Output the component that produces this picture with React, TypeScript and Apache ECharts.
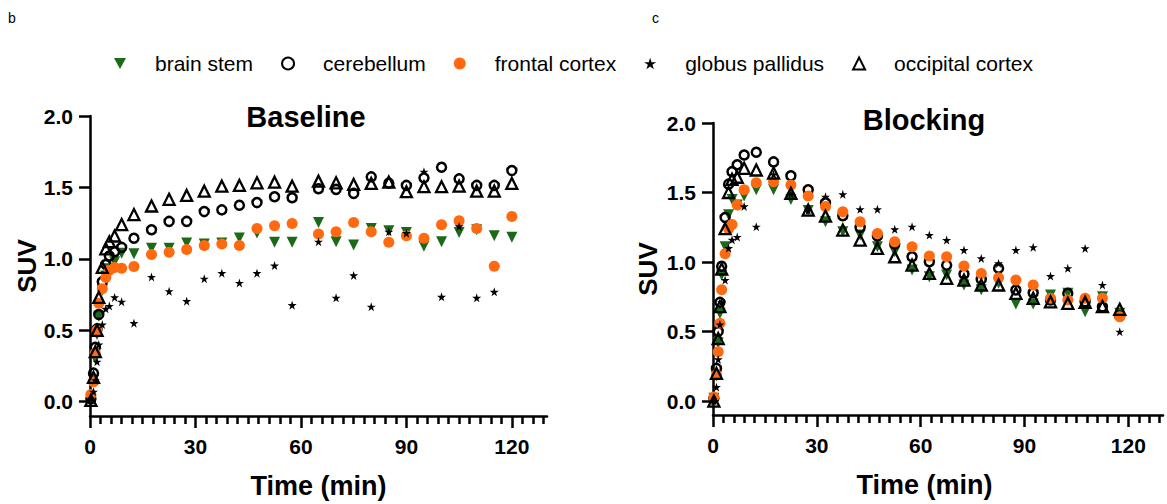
import React, { useEffect, useRef } from "react";
import * as echarts from "echarts";

// ---------- data ----------
const baselineTimes = [0.25, 1, 1.5, 2, 2.5, 3.5, 4.5, 5.5, 7, 9, 12.5, 17.5, 22.5, 27.5, 32.5, 37.5, 42.5, 47.5, 52.5, 57.5, 65, 70, 75, 80, 85, 90, 95, 100, 105, 110, 115, 120];
const blockingTimes = [0.25, 1, 1.5, 2, 2.5, 3.5, 4.5, 5.5, 7, 9, 12.5, 17.5, 22.5, 27.5, 32.5, 37.5, 42.5, 47.5, 52.5, 57.5, 62.5, 67.5, 72.5, 77.5, 82.5, 87.5, 92.5, 97.5, 102.5, 107.5, 112.5, 117.5];

const brainStemBaseline = [0.01, 0.15, 0.3, 0.47, 0.6, 0.78, 0.88, 0.93, 0.98, 1.04, 1.035, 1.074, 1.074, 1.111, 1.104, 1.111, 1.146, 1.181, 1.116, 1.116, 1.255, 1.12, 1.097, 1.213, 1.197, 1.185, 1.088, 1.12, 1.185, 1.204, 1.162, 1.151];
const cerebellumBaseline = [0.02, 0.2, 0.38, 0.51, 0.61, 0.84, 0.96, 1.02, 1.05, 1.08, 1.144, 1.204, 1.262, 1.262, 1.331, 1.343, 1.375, 1.394, 1.435, 1.428, 1.491, 1.486, 1.458, 1.574, 1.53, 1.514, 1.567, 1.641, 1.56, 1.514, 1.514, 1.618];
const frontalBaseline = [0.05, 0.14, 0.34, 0.5, 0.69, 0.79, 0.87, 0.92, 0.94, 0.935, 0.947, 1.03, 1.046, 1.065, 1.093, 1.104, 1.093, 1.213, 1.231, 1.248, 1.174, 1.19, 1.255, 1.19, 1.116, 1.162, 1.144, 1.238, 1.266, 1.213, 0.949, 1.296];
const globusBaseline = [0.02, 0.07, 0.15, 0.28, 0.4, 0.54, 0.65, 0.67, 0.73, 0.7, 0.55, 0.873, 0.773, 0.704, 0.861, 0.9, 0.831, 0.9, 0.953, 0.676, 1.12, 0.727, 0.884, 0.665, 1.19, 1.18, 1.61, 0.734, 1.227, 0.727, 0.769, null];
const occipitalBaseline = [0.01, 0.17, 0.35, 0.5, 0.73, 0.94, 1.07, 1.12, 1.16, 1.24, 1.31, 1.37, 1.417, 1.444, 1.474, 1.509, 1.514, 1.532, 1.537, 1.509, 1.544, 1.532, 1.521, 1.528, 1.537, 1.47, 1.505, 1.505, 1.509, 1.474, 1.474, 1.528];

const brainStemBlocking = [0.02, 0.18, 0.42, 0.63, 0.906, 1.11, 1.34, 1.45, 1.41, 1.475, 1.52, 1.52, 1.45, 1.37, 1.29, 1.218, 1.194, 1.11, 1.074, 0.942, 0.894, 0.906, 0.835, 0.8, 0.847, 0.698, 0.698, 0.763, 0.775, 0.642, 0.75, 0.631];
const cerebellumBlocking = [0.02, 0.235, 0.5, 0.71, 0.97, 1.32, 1.56, 1.65, 1.7, 1.77, 1.79, 1.72, 1.62, 1.52, 1.427, 1.333, 1.249, 1.187, 1.129, 1.038, 1.002, 0.978, 0.914, 0.875, 0.955, 0.799, 0.779, 0.727, 0.775, 0.714, 0.678, 0.612];
const frontalBlocking = [0.03, 0.19, 0.355, 0.56, 0.8, 1.06, 1.24, 1.27, 1.41, 1.52, 1.57, 1.578, 1.554, 1.475, 1.4, 1.362, 1.29, 1.206, 1.146, 1.11, 1.043, 1.038, 0.971, 0.918, 0.887, 0.87, 0.835, 0.739, 0.727, 0.739, 0.739, 0.607];
const globusBlocking = [0.0, 0.1, 0.3, 0.55, 0.71, 0.87, 1.1, 1.16, 1.18, 1.4, 1.254, 1.63, 1.49, 1.37, 1.47, 1.487, 1.379, 1.379, 1.235, 1.254, 1.194, 1.158, 1.086, 1.026, 0.99, 1.086, 1.106, 0.899, 0.955, 1.098, 0.835, 0.499];
const occipitalBlocking = [0.0, 0.2, 0.45, 0.68, 0.95, 1.24, 1.5, 1.595, 1.61, 1.674, 1.662, 1.64, 1.494, 1.374, 1.33, 1.23, 1.158, 1.098, 1.038, 0.978, 0.918, 0.883, 0.87, 0.835, 0.835, 0.775, 0.739, 0.714, 0.703, 0.71, 0.68, 0.66];

const regionNames = ["brain stem", "cerebellum", "frontal cortex", "globus pallidus", "occipital cortex"];
const xMajorTicks = [0, 30, 60, 90, 120];
const xMinorTicks = [3, 6, 9, 12, 15, 18, 21, 24, 27, 33, 36, 39, 42, 45, 48, 51, 54, 57, 63, 66, 69, 72, 75, 78, 81, 84, 87, 93, 96, 99, 102, 105, 108, 111, 114, 117, 123, 126, 129];
const yTicks = [0, 0.5, 1, 1.5, 2];
const panelTitles = ["Baseline", "Blocking"];

// ---------- styles ----------
const FONT = '"Liberation Sans", Arial, Helvetica, sans-serif';
const GREEN = "#1a6a1a";
const ORANGE = "#ff6a10";
const STAR = "path://M50,0L61.2,34.5L97.6,34.5L68.2,55.9L79.4,90.5L50,69.1L20.6,90.5L31.8,55.9L2.4,34.5L38.8,34.5Z";
const DOWN_TRI = "path://M0,0L100,0L50,90Z";

const markerStyles: any[] = [
  { symbol: DOWN_TRI, symbolSize: 11, itemStyle: { color: GREEN, opacity: 1 } },
  { symbol: "circle", symbolSize: 9, itemStyle: { color: "rgba(0,0,0,0)", borderColor: "#000", borderWidth: 2.5, opacity: 1 } },
  { symbol: "circle", symbolSize: 11, itemStyle: { color: ORANGE, opacity: 1 } },
  { symbol: STAR, symbolSize: 9, itemStyle: { color: "#000", opacity: 1 } },
  { symbol: "triangle", symbolSize: 11, itemStyle: { color: "rgba(0,0,0,0)", borderColor: "#000", borderWidth: 2.3, opacity: 1 } },
];

const axisLine = { show: true, onZero: false, lineStyle: { color: "#000", width: 2.5 } };
const tickLine = { color: "#000", width: 2.5 };

function toPoints(times: number[], vals: (number | null)[]) {
  const out: number[][] = [];
  times.forEach((t, i) => {
    const v = vals[i];
    if (v !== null && v !== undefined) out.push([t, v]);
  });
  return out;
}

export default function App() {
  const ref = useRef<HTMLDivElement>(null);
  useEffect(() => {
    if (!ref.current) return;
    const chart = echarts.init(ref.current, null, { renderer: "svg" });

    const panels = [
      { times: baselineTimes, sets: [brainStemBaseline, cerebellumBaseline, frontalBaseline, globusBaseline, occipitalBaseline] },
      { times: blockingTimes, sets: [brainStemBlocking, cerebellumBlocking, frontalBlocking, globusBlocking, occipitalBlocking] },
    ];

    const series: any[] = [];
    panels.forEach((p, gi) => {
      p.sets.forEach((vals, si) => {
        series.push({
          type: "scatter",
          name: regionNames[si],
          xAxisIndex: gi * 2,
          yAxisIndex: gi,
          clip: false,
          data: toPoints(p.times, vals),
          ...markerStyles[si],
        });
      });
    });

    const grids = [
      { left: 90, top: 116, width: 457, height: 302 },
      { left: 713, top: 123, width: 450, height: 292 },
    ];

    const xAxes: any[] = [];
    const yAxes: any[] = [];
    grids.forEach((g, gi) => {
      xAxes.push({
        gridIndex: gi,
        type: "value",
        position: "bottom",
        min: 0,
        max: 130,
        axisLine,
        axisTick: { show: true, customValues: xMajorTicks, length: 12, lineStyle: tickLine },
        axisLabel: { customValues: xMajorTicks, fontSize: 21, fontWeight: "bold", color: "#000", fontFamily: FONT, margin: 20 },
        splitLine: { show: false },
        name: "Time (min)",
        nameLocation: "middle",
        nameGap: 56,
        nameTextStyle: { fontSize: 27, fontWeight: "bold", color: "#000", fontFamily: FONT, padding: gi === 1 ? [0, 27, 0, 0] : [0, 0, 0, 0] },
      });
      xAxes.push({
        gridIndex: gi,
        type: "value",
        position: "bottom",
        offset: 0,
        min: 0,
        max: 130,
        axisLine: { show: false, onZero: false },
        axisTick: { show: true, customValues: xMinorTicks, length: 8, lineStyle: tickLine },
        axisLabel: { show: false },
        splitLine: { show: false },
      });
      yAxes.push({
        gridIndex: gi,
        type: "value",
        min: -0.1,
        max: 2.0,
        axisLine,
        axisTick: { show: true, customValues: yTicks, length: 11, lineStyle: tickLine },
        axisLabel: {
          customValues: yTicks,
          formatter: (v: number) => v.toFixed(1),
          fontSize: 21,
          fontWeight: "bold",
          color: "#000",
          fontFamily: FONT,
          margin: 17,
        },
        splitLine: { show: false },
        name: "SUV",
        nameLocation: "middle",
        nameGap: gi === 0 ? 47 : 52,
        nameTextStyle: { fontSize: 26, fontWeight: "bold", color: "#000", fontFamily: FONT },
      });
    });

    chart.setOption({
      animation: false,
      backgroundColor: "#fff",
      grid: grids,
      xAxis: xAxes,
      yAxis: yAxes,
      legend: {
        data: regionNames,
        left: 109,
        top: 48,
        itemWidth: 12,
        itemHeight: 12,
        itemGap: 28,
        textStyle: { fontSize: 21, color: "#000", fontFamily: FONT, padding: [0, 0, 0, 24] },
      },
      graphic: [
        { type: "text", x: 8, y: 11, style: { text: "b", font: `14px ${FONT}`, fill: "#000" } },
        { type: "text", x: 652, y: 11, style: { text: "c", font: `14px ${FONT}`, fill: "#000" } },
        { type: "text", x: 306, y: 117, style: { text: panelTitles[0], font: `bold 29px ${FONT}`, fill: "#000", align: "center", verticalAlign: "middle" } },
        { type: "text", x: 924, y: 120, style: { text: panelTitles[1], font: `bold 29px ${FONT}`, fill: "#000", align: "center", verticalAlign: "middle" } },
      ],
      series,
    });
    return () => chart.dispose();
  }, []);

  return <div ref={ref} style={{ position: "fixed", left: 0, top: 0, width: 1167, height: 504, background: "#fff" }} />;
}
